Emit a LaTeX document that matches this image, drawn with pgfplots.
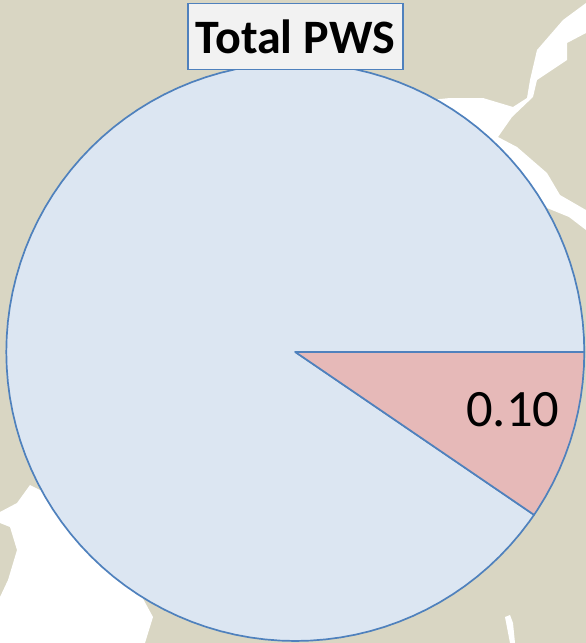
\documentclass[border=0pt]{standalone}
\usepackage{pgfplots}
\pgfplotsset{compat=1.18}
\usepackage{fontspec}
\setmainfont{Carlito}
\definecolor{mapland}{HTML}{D9D6C3}
\definecolor{piefill}{HTML}{DCE6F2}
\definecolor{pieedge}{HTML}{4F81BD}
\definecolor{slicefill}{HTML}{E6B9B8}
\definecolor{titlefill}{HTML}{F2F2F2}
\begin{document}
\begin{tikzpicture}[x=1pt,y=1pt]
\begin{axis}[at={(0,0)},anchor=south west,scale only axis,width=586pt,height=643pt,hide axis,
  xmin=0,xmax=586,ymin=0,ymax=643,y dir=reverse]
\addplot[draw=none,fill=mapland] coordinates {(0,0)(586,0)(586,643)(0,643)} -- cycle;
\addplot[draw=none,fill=white] coordinates {(586,3)(563,20)(537,50)(530,80)(527,98)(513,107)(483,98)(450,98)(430,100)(430,140)(530,250)(547,208)(569,217)(586,230)(586,210)(560,195)(547,173)(517,147)(498,137)(512,117)(533,97)(537,80)(567,60)(567,43)(586,33)} -- cycle;
\addplot[draw=none,fill=white] coordinates {(0,643)(0,597)(8,580)(17,550)(10,527)(0,523)(0,512)(17,503)(30,485)(100,520)(153,617)(145,643)} -- cycle;
\addplot[draw=none,fill=white] coordinates {(505,617)(510,643)(515,643)(513,623)(510,615)} -- cycle;
\end{axis}
\begin{axis}[at={(0,0)},anchor=south west,scale only axis,width=586pt,height=643pt,hide axis,
  xmin=-295.3,xmax=290.7,ymin=-291,ymax=352]
\addplot[data cs=polar,draw=pieedge,line width=1.7pt,fill=piefill,line join=round] coordinates {
(0,0)(-34.3,289)(-36,289)(-39,289)(-42,289)(-45,289)(-48,289)(-51,289)(-54,289)(-57,289)(-60,289)
(-63,289)(-66,289)(-69,289)(-72,289)(-75,289)(-78,289)(-81,289)(-84,289)(-87,289)(-90,289)
(-93,289)(-96,289)(-99,289)(-102,289)(-105,289)(-108,289)(-111,289)(-114,289)(-117,289)(-120,289)
(-123,289)(-126,289)(-129,289)(-132,289)(-135,289)(-138,289)(-141,289)(-144,289)(-147,289)(-150,289)
(-153,289)(-156,289)(-159,289)(-162,289)(-165,289)(-168,289)(-171,289)(-174,289)(-177,289)(-180,289)
(-183,289)(-186,289)(-189,289)(-192,289)(-195,289)(-198,289)(-201,289)(-204,289)(-207,289)(-210,289)
(-213,289)(-216,289)(-219,289)(-222,289)(-225,289)(-228,289)(-231,289)(-234,289)(-237,289)(-240,289)
(-243,289)(-246,289)(-249,289)(-252,289)(-255,289)(-258,289)(-261,289)(-264,289)(-267,289)(-270,289)
(-273,289)(-276,289)(-279,289)(-282,289)(-285,289)(-288,289)(-291,289)(-294,289)(-297,289)(-300,289)
(-303,289)(-306,289)(-309,289)(-312,289)(-315,289)(-318,289)(-321,289)(-324,289)(-327,289)(-330,289)
(-333,289)(-336,289)(-339,289)(-342,289)(-345,289)(-348,289)(-351,289)(-354,289)(-357,289)(-360,289)} -- cycle;
\addplot[data cs=polar,draw=pieedge,line width=1.7pt,fill=slicefill,line join=round] coordinates {
(0,0)(0,289)(-3,289)(-6,289)(-9,289)(-12,289)(-15,289)(-18,289)(-21,289)(-24,289)(-27,289)(-30,289)(-33,289)(-34.3,289)} -- cycle;
\node[font=\fontsize{52.5}{52.5}\selectfont,text=black,inner sep=0pt] at (axis cs:217.5,-58) {0.10};
\node[draw=pieedge,line width=1.7pt,fill=titlefill,minimum width=215pt,minimum height=66pt,inner sep=0pt,
  font=\fontsize{48}{48}\selectfont\bfseries,text=black] at (axis cs:0,315.5) {Total PWS};
\end{axis}
\end{tikzpicture}
\end{document}
